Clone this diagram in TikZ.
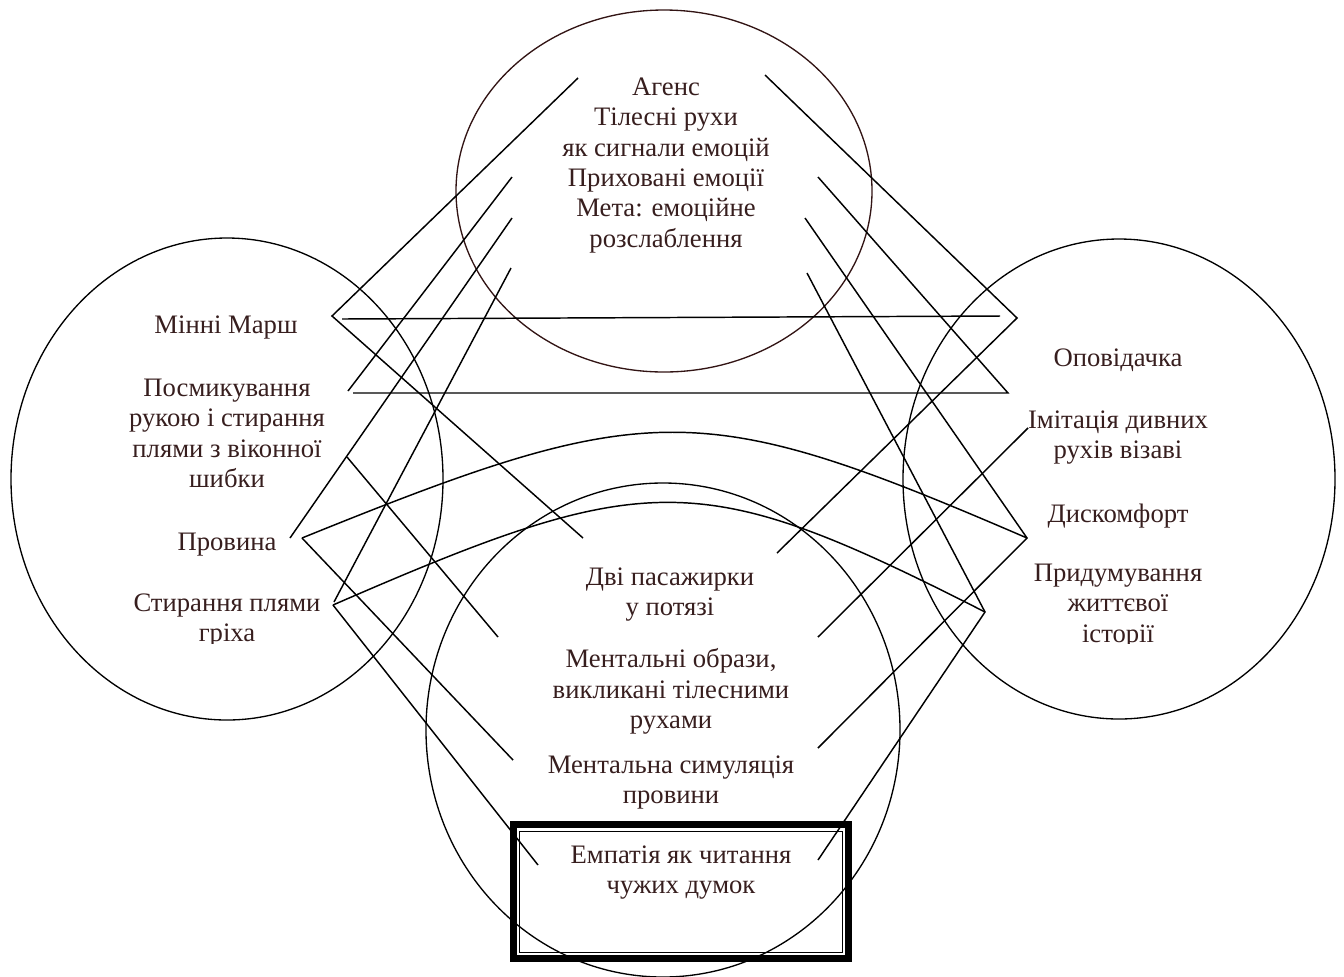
\documentclass[tikz,border=0pt]{standalone}
\usepackage{fontspec}
\setmainfont{Liberation Serif}
\usepackage{tikz}
\definecolor{inkbrown}{RGB}{55,30,30}
\definecolor{rimbrown}{RGB}{50,20,20}

\begin{document}
\begin{tikzpicture}[x=0.75pt, y=-0.75pt, line width=1.1pt,
    lbl/.style={text=inkbrown, font=\fontsize{20}{22.8}\selectfont, align=center, inner sep=0pt, anchor=north},
    rim/.style={line width=1pt}]
  \useasboundingbox (0,0) rectangle (1344,976);
  % the four fields
  \draw[rim] (227,479) ellipse [x radius=216, y radius=241];
  \draw[rim] (1119,479) ellipse [x radius=216, y radius=240];
  \draw[rim] (663,730) ellipse [x radius=237, y radius=247];
  \draw[rim, rimbrown] (664,191) ellipse [x radius=208, y radius=181];
  \draw[line width=5.25pt] (513,824) rectangle (848,958);
  \draw[line width=0.75pt] (519,831) rectangle (842,952);

  \node[lbl] (agent) at (666,77) {Агенс\\Тілесні рухи\\як сигнали емоцій\\Приховані емоції\\Мета: емоційне\\розслаблення};
  \node[lbl] (march) at (226,315) {Мінні Марш};
  \node[lbl] (twitch) at (227,378) {Посмикування\\рукою і стирання\\плями з віконної\\шибки};
  \node[lbl] (guilt) at (227,532) {Провина};
  \node[lbl] (narr) at (1118,348) {Оповідачка};
  \node[lbl] (imit) at (1118,410) {Імітація дивних\\рухів візаві};
  \node[lbl] (disc) at (1118,503) {Дискомфорт};
  \begin{scope}
    \clip (0,0) rectangle (1344,643);
    \node[lbl] (erase) at (227,593) {Стирання плями\\гріха};
    \node[lbl] (invent) at (1118,563) {Придумування\\життєвої\\історії};
  \end{scope}
  \node[lbl] (pair) at (670,567) {Дві пасажирки\\у потязі};
  \node[lbl] (image) at (671,648) {Ментальні образи,\\викликані тілесними\\рухами};
  \node[lbl] (sim) at (671,755) {Ментальна симуляція\\провини};
  \node[lbl] (empathy) at (681,845) {Емпатія як читання\\чужих думок};

  % ends of the links
  \coordinate (agL) at (578,78);
  \coordinate (bodyL) at (512,177);
  \coordinate (hidL) at (512,218);
  \coordinate (relaxL) at (511,268);
  \coordinate (agR) at (765,75);
  \coordinate (bodyR) at (818,177);
  \coordinate (hidR) at (805,218);
  \coordinate (relaxR) at (807,273);
  \coordinate (marchA) at (332,316);
  \coordinate (marchB) at (342,319);
  \coordinate (twitchA) at (348,391);
  \coordinate (twitchB) at (353,393);
  \coordinate (twitchC) at (347,457);
  \coordinate (guiltA) at (290,538);
  \coordinate (guiltB) at (302,538);
  \coordinate (eraseA) at (334,602);
  \coordinate (eraseB) at (333,605);
  \coordinate (narrA) at (1000,316);
  \coordinate (narrB) at (1017,318);
  \coordinate (narrC) at (1008,393);
  \coordinate (imitA) at (1028,428);
  \coordinate (discA) at (1027,538);
  \coordinate (inventA) at (985,612);
  \coordinate (pairL) at (583,538);
  \coordinate (pairR) at (777,553);
  \coordinate (imageL) at (498,637);
  \coordinate (imageR) at (818,637);
  \coordinate (simL) at (513,760);
  \coordinate (simR) at (818,748);
  \coordinate (empL) at (538,865);
  \coordinate (empR) at (818,860);

  \draw (agL) -- (marchA) -- (pairL);
  \draw (marchB) -- (narrA);
  \draw (bodyL) -- (twitchA);
  \draw (twitchB) -- (narrC) -- (bodyR);
  \draw (hidL) -- (guiltA);
  \draw (relaxL) -- (eraseA);
  \draw (twitchC) -- (imageL);
  \draw (guiltB) -- (simL);
  \draw (eraseB) -- (empL);
  \draw (guiltB) .. controls (650,397) and (700,397) .. (discA);
  \draw (eraseB) .. controls (650,467) and (700,467) .. (inventA);
  \draw (agR) -- (narrB) -- (pairR);
  \draw (hidR) -- (discA) -- (simR);
  \draw (relaxR) -- (inventA) -- (empR);
  \draw (imitA) -- (imageR);
\end{tikzpicture}
\end{document}
